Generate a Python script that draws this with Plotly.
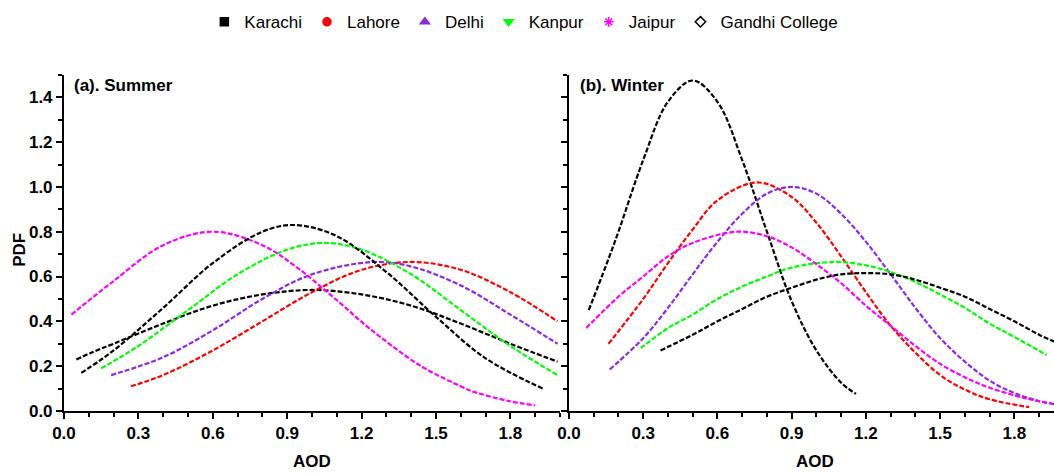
import plotly.graph_objects as go

# ---------------- data ----------------
# (a) Summer
karachi_s_x = [0.05, 0.11, 0.2, 0.4, 0.6, 0.8, 1.0, 1.2, 1.4, 1.6, 1.8, 1.99]
karachi_s_y = [0.23, 0.26, 0.30, 0.39, 0.47, 0.52, 0.54, 0.52, 0.47, 0.39, 0.30, 0.22]
lahore_s_x = [0.27, 0.4, 0.6, 0.8, 1.0, 1.2, 1.4, 1.6, 1.8, 1.99]
lahore_s_y = [0.11, 0.16, 0.27, 0.40, 0.53, 0.63, 0.665, 0.63, 0.53, 0.40]
delhi_s_x = [0.19, 0.4, 0.6, 0.8, 1.0, 1.25, 1.4, 1.6, 1.8, 1.99]
delhi_s_y = [0.16, 0.24, 0.36, 0.50, 0.61, 0.665, 0.645, 0.56, 0.43, 0.30]
kanpur_s_x = [0.15, 0.3, 0.5, 0.7, 0.9, 1.05, 1.2, 1.4, 1.6, 1.8, 1.99]
kanpur_s_y = [0.19, 0.29, 0.45, 0.61, 0.72, 0.75, 0.72, 0.61, 0.45, 0.29, 0.16]
jaipur_s_x = [0.03, 0.2, 0.4, 0.6, 0.8, 0.94, 1.11, 1.23, 1.44, 1.61, 1.64, 1.79, 1.90]
jaipur_s_y = [0.43, 0.58, 0.74, 0.80, 0.74, 0.64, 0.485, 0.37, 0.20, 0.105, 0.09, 0.045, 0.025]
gandhi_s_x = [0.07, 0.2, 0.4, 0.6, 0.8, 0.93, 1.1, 1.3, 1.5, 1.7, 1.93]
gandhi_s_y = [0.17, 0.27, 0.46, 0.66, 0.80, 0.83, 0.78, 0.62, 0.42, 0.235, 0.10]

# (b) Winter
karachi_w_x = [0.08, 0.15, 0.2, 0.3, 0.4, 0.5, 0.6, 0.7, 0.8, 0.9, 1.0, 1.1, 1.16]
karachi_w_y = [0.45, 0.65, 0.80, 1.12, 1.38, 1.475, 1.38, 1.12, 0.80, 0.49, 0.27, 0.126, 0.076]
lahore_w_x = [0.16, 0.3, 0.4, 0.5, 0.6, 0.76, 0.9, 1.0, 1.1, 1.2, 1.3, 1.4, 1.5, 1.6, 1.7, 1.86]
lahore_w_y = [0.30, 0.50, 0.66, 0.81, 0.94, 1.02, 0.955, 0.84, 0.69, 0.53, 0.38, 0.26, 0.16, 0.095, 0.052, 0.017]
delhi_w_x = [0.165, 0.3, 0.4, 0.5, 0.6, 0.7, 0.8, 0.9, 1.0, 1.1, 1.2, 1.3, 1.4, 1.5, 1.6, 1.7, 1.8, 1.9, 1.96]
delhi_w_y = [0.185, 0.325, 0.46, 0.61, 0.755, 0.88, 0.97, 1.0, 0.97, 0.88, 0.755, 0.61, 0.46, 0.325, 0.22, 0.135, 0.08, 0.044, 0.03]
kanpur_w_x = [0.29, 0.4, 0.5, 0.6, 0.7, 0.8, 0.9, 1.07, 1.2, 1.3, 1.4, 1.5, 1.6, 1.7, 1.8, 1.93]
kanpur_w_y = [0.28, 0.37, 0.43, 0.50, 0.555, 0.60, 0.64, 0.665, 0.65, 0.62, 0.576, 0.52, 0.46, 0.39, 0.33, 0.25]
jaipur_w_x = [0.07, 0.2, 0.3, 0.4, 0.5, 0.68, 0.8, 0.9, 1.0, 1.1, 1.2, 1.3, 1.4, 1.5, 1.6, 1.7, 1.85, 1.95]
jaipur_w_y = [0.37, 0.51, 0.60, 0.69, 0.75, 0.80, 0.78, 0.73, 0.655, 0.57, 0.47, 0.38, 0.29, 0.21, 0.15, 0.104, 0.055, 0.034]
gandhi_w_x = [0.37, 0.5, 0.6, 0.7, 0.8, 0.9, 1.0, 1.1, 1.2, 1.3, 1.4, 1.5, 1.6, 1.7, 1.8, 1.9, 1.96]
gandhi_w_y = [0.27, 0.34, 0.40, 0.455, 0.51, 0.55, 0.586, 0.61, 0.615, 0.61, 0.586, 0.55, 0.51, 0.455, 0.40, 0.34, 0.31]

x_ticks = [0.0, 0.3, 0.6, 0.9, 1.2, 1.5, 1.8]
x_tick_labels = ["0.0", "0.3", "0.6", "0.9", "1.2", "1.5", "1.8"]
y_ticks = [0.0, 0.2, 0.4, 0.6, 0.8, 1.0, 1.2, 1.4]
y_tick_labels = ["0.0", "0.2", "0.4", "0.6", "0.8", "1.0", "1.2", "1.4"]

sites = ["Karachi", "Lahore", "Delhi", "Kanpur", "Jaipur", "Gandhi College"]
summer = {
    "Karachi": (karachi_s_x, karachi_s_y), "Lahore": (lahore_s_x, lahore_s_y),
    "Delhi": (delhi_s_x, delhi_s_y), "Kanpur": (kanpur_s_x, kanpur_s_y),
    "Jaipur": (jaipur_s_x, jaipur_s_y), "Gandhi College": (gandhi_s_x, gandhi_s_y),
}
winter = {
    "Karachi": (karachi_w_x, karachi_w_y), "Lahore": (lahore_w_x, lahore_w_y),
    "Delhi": (delhi_w_x, delhi_w_y), "Kanpur": (kanpur_w_x, kanpur_w_y),
    "Jaipur": (jaipur_w_x, jaipur_w_y), "Gandhi College": (gandhi_w_x, gandhi_w_y),
}

colors = {"Karachi": "#000000", "Lahore": "#ff0000", "Delhi": "#8a2be2",
          "Kanpur": "#00ff00", "Jaipur": "#ff00ff", "Gandhi College": "#000000"}
symbols = {"Karachi": "square", "Lahore": "circle", "Delhi": "triangle-up",
           "Kanpur": "triangle-down", "Jaipur": "asterisk", "Gandhi College": "diamond-open"}

FONT = "Liberation Sans, Arial, sans-serif"
BOLD = dict(family=FONT, size=17, color="black", weight="bold")

fig = go.Figure()

for panel, data in (("x", summer), ("x2", winter)):
    yax = "y" if panel == "x" else "y2"
    for s in sites:
        xs, ys = data[s]
        fig.add_trace(go.Scatter(
            x=xs, y=ys, xaxis=panel, yaxis=yax, mode="lines",
            line=dict(color=colors[s], width=2.2, dash="5px,2px", shape="spline", smoothing=1.0),
            showlegend=False, hoverinfo="skip"))

# legend-only entries (markers)
for s in sites:
    fig.add_trace(go.Scatter(
        x=[None], y=[None], mode="markers", name=s,
        marker=dict(symbol=symbols[s], color=colors[s], size=8,
                    line=dict(color=colors[s], width=1.5))))

axis_common = dict(
    showline=True, linecolor="black", linewidth=2, ticks="outside", ticklen=6,
    tickwidth=2, tickcolor="black", showgrid=False, zeroline=False, automargin=False,
    tickfont=BOLD,
    minor=dict(ticks="outside", ticklen=4, tickwidth=2, tickcolor="black"),
)

fig.update_layout(
    width=1054, height=474, margin=dict(l=0, r=0, t=0, b=0, autoexpand=False),
    paper_bgcolor="white", plot_bgcolor="white",
    xaxis=dict(domain=[0.0607, 0.5313], range=[0, 2.0], tickvals=x_ticks,
               ticktext=x_tick_labels, anchor="y", **axis_common),
    xaxis2=dict(domain=[0.5398, 1.0], range=[0, 1.96], tickvals=x_ticks,
                ticktext=x_tick_labels, anchor="y2", **axis_common),
    yaxis=dict(domain=[0.133, 0.842], range=[0, 1.5], tickvals=y_ticks,
               ticktext=y_tick_labels, anchor="x", **axis_common),
    yaxis2=dict(domain=[0.133, 0.842], range=[0, 1.5], tickvals=y_ticks,
                showticklabels=False, anchor="x2", **axis_common),
    legend=dict(orientation="h", x=0.497, xanchor="center", y=0.953, yanchor="middle",
                font=dict(family=FONT, size=17, color="black"),
                bgcolor="rgba(0,0,0,0)", itemwidth=30),
    annotations=[
        dict(text="(a). Summer", x=0.068, y=0.82, xref="paper", yref="paper", xanchor="left",
             yanchor="middle", showarrow=False, font=BOLD),
        dict(text="(b). Winter", x=0.548, y=0.82, xref="paper", yref="paper", xanchor="left",
             yanchor="middle", showarrow=False, font=BOLD),
        dict(text="AOD", x=0.296, y=0.027, xref="paper", yref="paper", xanchor="center",
             yanchor="middle", showarrow=False, font=BOLD),
        dict(text="AOD", x=0.773, y=0.027, xref="paper", yref="paper", xanchor="center",
             yanchor="middle", showarrow=False, font=BOLD),
        dict(text="PDF", x=0.019, y=0.473, xref="paper", yref="paper", xanchor="center",
             yanchor="middle", textangle=-90, showarrow=False, font=BOLD),
    ],
)

fig.write_html("out.html")
